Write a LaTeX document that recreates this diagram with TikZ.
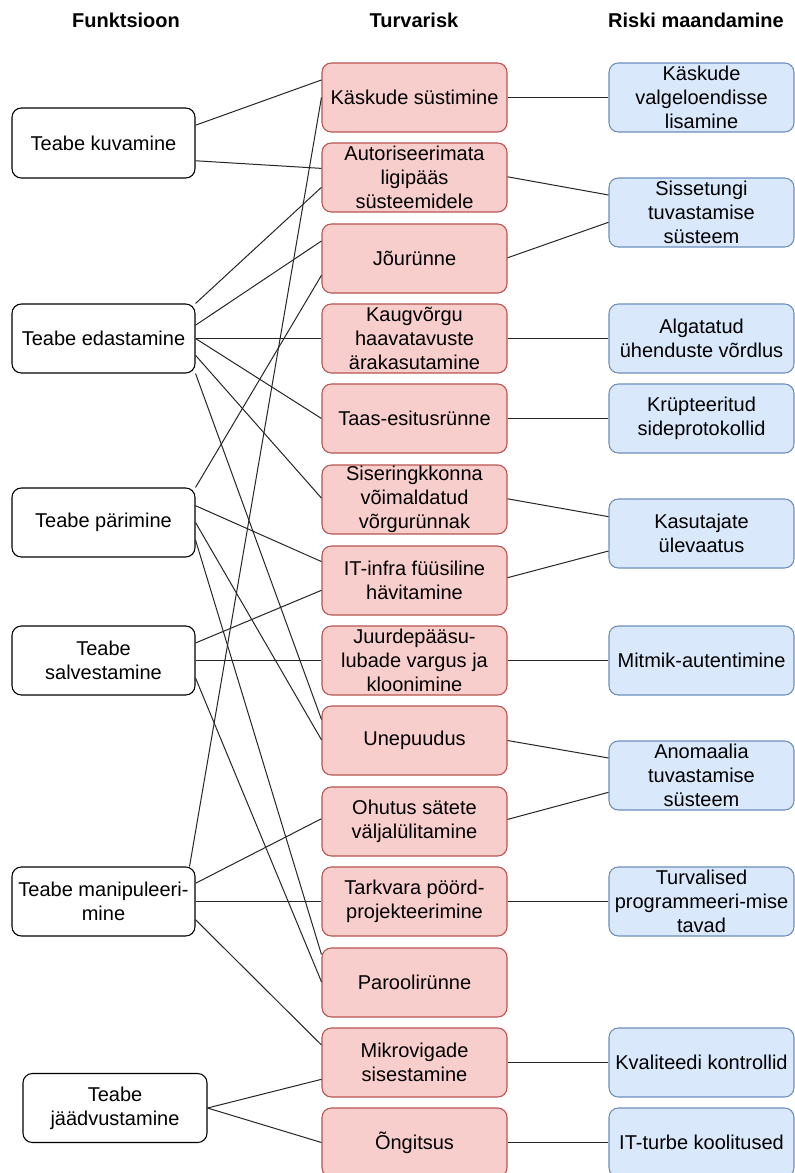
\documentclass[tikz,border=0pt]{standalone}
\usepackage{fontspec}
\setmainfont{Liberation Sans}
\usetikzlibrary{calc}

\definecolor{riskfill}{HTML}{F8CECC}
\definecolor{riskdraw}{HTML}{B85450}
\definecolor{mitfill}{HTML}{DAE8FC}
\definecolor{mitdraw}{HTML}{6C8EBF}

\tikzset{
  basebox/.style={rounded corners=7pt, line width=0.8pt, align=center,
    inner sep=0pt, minimum height=51.75pt,
    font=\fontsize{15pt}{18pt}\selectfont},
  funcbox/.style={basebox, draw=black, fill=white, minimum width=137.25pt},
  riskbox/.style={basebox, draw=riskdraw, fill=riskfill, minimum width=138.75pt},
  mitbox/.style={basebox, draw=mitdraw, fill=mitfill, minimum width=138.75pt},
  header/.style={anchor=base, font=\fontsize{15pt}{18pt}\selectfont\bfseries},
  link/.style={line width=0.75pt, draw=black!85}
}

\begin{document}
\begin{tikzpicture}[x=0.75pt, y=-0.75pt]
\useasboundingbox (0,0) rectangle (795,1173);
\fill[white] (0,0) rectangle (795,1173);

% column headings
\node[header] (hf) at (126,28) {Funktsioon};
\node[header] (hr) at (414,28) {Turvarisk};
\node[header] (hm) at (696,28) {Riski maandamine};

% functions
\node[funcbox, minimum height=52.5pt] (kuv) at (103.5,143) {Teabe kuvamine};
\node[funcbox] (eda) at (103.5,338.5) {Teabe edastamine};
\node[funcbox] (par) at (103.5,522.5) {Teabe pärimine};
\node[funcbox] (sal) at (103.5,660.5) {Teabe\\salvestamine};
\node[funcbox] (man) at (103.5,901.5) {Teabe manipuleeri-\\mine};
\node[funcbox, minimum width=138pt] (jaa) at (115,1108) {Teabe\\jäädvustamine};

% security risks
\node[riskbox] (kas) at (414.5,97.5) {Käskude süstimine};
\node[riskbox] (aut) at (414.5,177.5) {Autoriseerimata\\ligipääs\\süsteemidele};
\node[riskbox] (jou) at (414.5,258.5) {Jõurünne};
\node[riskbox] (kau) at (414.5,338.5) {Kaugvõrgu\\haavatavuste\\ärakasutamine};
\node[riskbox] (taa) at (414.5,418.5) {Taas-esitusrünne};
\node[riskbox] (sis) at (414.5,499.5) {Siseringkkonna\\võimaldatud\\võrgurünnak};
\node[riskbox] (itf) at (414.5,580.5) {IT-infra füüsiline\\hävitamine};
\node[riskbox] (juu) at (414.5,660.5) {Juurdepääsu-\\lubade vargus ja\\kloonimine};
\node[riskbox] (une) at (414.5,740.5) {Unepuudus};
\node[riskbox] (ohu) at (414.5,821.5) {Ohutus sätete\\väljalülitamine};
\node[riskbox] (tar) at (414.5,901.5) {Tarkvara pöörd-\\projekteerimine};
\node[riskbox] (pro) at (414.5,982.5) {Paroolirünne};
\node[riskbox] (mik) at (414.5,1062.5) {Mikrovigade\\sisestamine};
\node[riskbox] (ong) at (414.5,1142.5) {Õngitsus};

% mitigations
\node[mitbox] (kvl) at (701.5,97.5) {Käskude\\valgeloendisse\\lisamine};
\node[mitbox] (sst) at (701.5,212.5) {Sissetungi\\tuvastamise\\süsteem};
\node[mitbox] (alg) at (701.5,338.5) {Algatatud\\ühenduste võrdlus};
\node[mitbox] (kru) at (701.5,418.5) {Krüpteeritud\\sideprotokollid};
\node[mitbox] (kst) at (701.5,533.5) {Kasutajate\\ülevaatus};
\node[mitbox] (mit) at (701.5,660.5) {Mitmik-autentimine};
\node[mitbox] (ano) at (701.5,775.5) {Anomaalia\\tuvastamise\\süsteem};
\node[mitbox] (tur) at (701.5,901.5) {Turvalised\\programmeeri-mise\\tavad};
\node[mitbox] (kva) at (701.5,1062.5) {Kvaliteedi kontrollid};
\node[mitbox] (itt) at (701.5,1142.5) {IT-turbe koolitused};

% links: source / fraction down its right side / target / fraction down its left side
\foreach \a/\fa/\b/\fb in {
  kuv/0.25/kas/0.25, kuv/0.75/aut/0.37,
  eda/0/aut/0.64, eda/0.31/jou/0.25, eda/0.5/kau/0.5, eda/0.5/taa/0.5,
  eda/0.74/sis/0.48, eda/1/une/0.2,
  par/0/jou/0.74, par/0.26/itf/0.23, par/0.5/une/0.49, par/0.75/pro/0.1,
  sal/0.25/itf/0.64, sal/0.5/juu/0.5, sal/0.75/pro/0.49,
  man/0.24/ohu/0.46, man/0.5/tar/0.5, man/0.76/mik/0.25,
  jaa/0.5/mik/0.74, jaa/0.5/ong/0.5,
  kas/0.5/kvl/0.5, aut/0.49/sst/0.25, jou/0.49/sst/0.64,
  kau/0.5/alg/0.5, taa/0.5/kru/0.5, sis/0.49/kst/0.26, itf/0.46/kst/0.75,
  juu/0.5/mit/0.5, une/0.5/ano/0.25, ohu/0.47/ano/0.74,
  tar/0.5/tur/0.5, mik/0.5/kva/0.5, ong/0.5/itt/0.5}
  \draw[link] ($(\a.north east)!\fa!(\a.south east)$) -- ($(\b.north west)!\fb!(\b.south west)$);

% long link from the top corner of the manipulation box
\draw[link] ([xshift=-4.5pt]man.north east) -- ($(kas.north west)!0.5!(kas.south west)$);
\end{tikzpicture}
\end{document}
